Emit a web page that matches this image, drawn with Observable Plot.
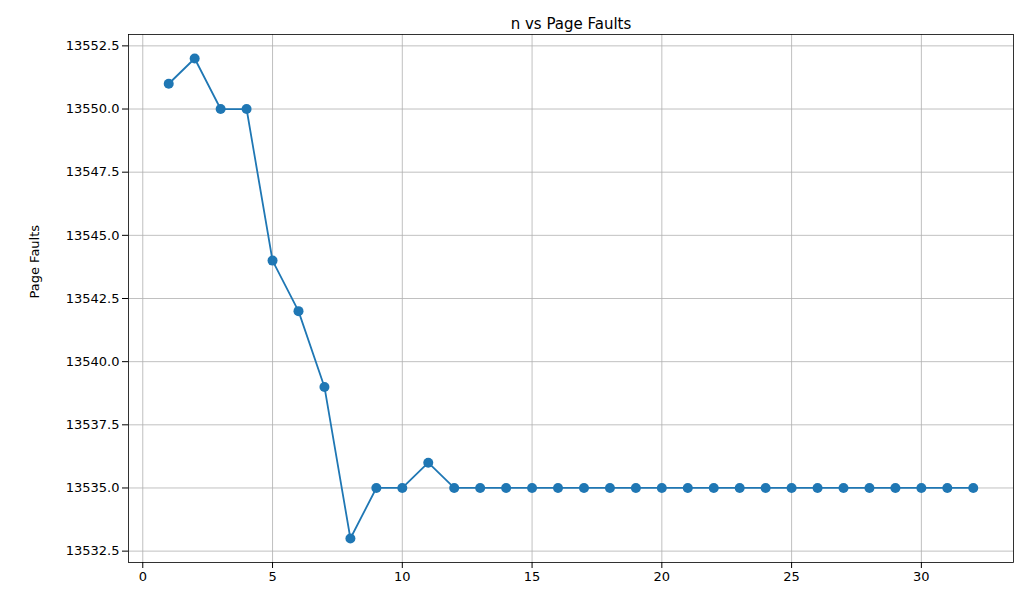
<!DOCTYPE html>
<html>
<head>
<meta charset="utf-8">
<script src="https://cdn.jsdelivr.net/npm/d3@7"></script>
<script src="https://cdn.jsdelivr.net/npm/@observablehq/plot@0.6"></script>
<style>
  body { margin: 0; background: white; }
</style>
</head>
<body>
<div id="chart"></div>
<script>
const nValues = d3.range(1, 33)
const faults = [13551, 13552, 13550, 13550, 13544, 13542, 13539, 13533, 13535, 13535, 13536,
  13535, 13535, 13535, 13535, 13535, 13535, 13535, 13535, 13535, 13535, 13535,
  13535, 13535, 13535, 13535, 13535, 13535, 13535, 13535, 13535, 13535]
const xTicks = [0, 5, 10, 15, 20, 25, 30]
const yTicks = [13532.5, 13535, 13537.5, 13540, 13542.5, 13545, 13547.5, 13550, 13552.5]

const data = nValues.map((n, i) => ({n, faults: faults[i]}))

const chart = Plot.plot({
  width: 1034,
  height: 600,
  marginTop: 34,
  marginBottom: 38,
  marginLeft: 128,
  marginRight: 21,
  style: {fontFamily: "DejaVu Sans", fontSize: "13px", color: "#000"},
  x: {domain: [-0.55, 33.55], ticks: xTicks, tickFormat: d3.format("d"), label: null, tickSize: 4},
  y: {domain: [13532.05, 13552.95], ticks: yTicks, tickFormat: d3.format(".1f"), label: null, tickSize: 4},
  marks: [
    Plot.gridX(xTicks, {stroke: "#b0b0b0", strokeOpacity: 1, strokeWidth: 0.8}),
    Plot.gridY(yTicks, {stroke: "#b0b0b0", strokeOpacity: 1, strokeWidth: 0.8}),
    Plot.frame({stroke: "#000", strokeWidth: 0.8}),
    Plot.axisX(xTicks, {tickFormat: d3.format("d"), fontSize: 13}),
    Plot.axisY(yTicks, {tickFormat: d3.format(".1f"), fontSize: 13}),
    Plot.line(data, {x: "n", y: "faults", stroke: "#1f77b4", strokeWidth: 1.8}),
    Plot.dot(data, {x: "n", y: "faults", fill: "#1f77b4", r: 5}),
    Plot.text(["n vs Page Faults"], {frameAnchor: "top", dy: -16, fontSize: 15}),
    Plot.text(["Page Faults"], {frameAnchor: "left", dx: -94, rotate: -90, fontSize: 13})
  ]
})
document.getElementById("chart").append(chart)
</script>
</body>
</html>
